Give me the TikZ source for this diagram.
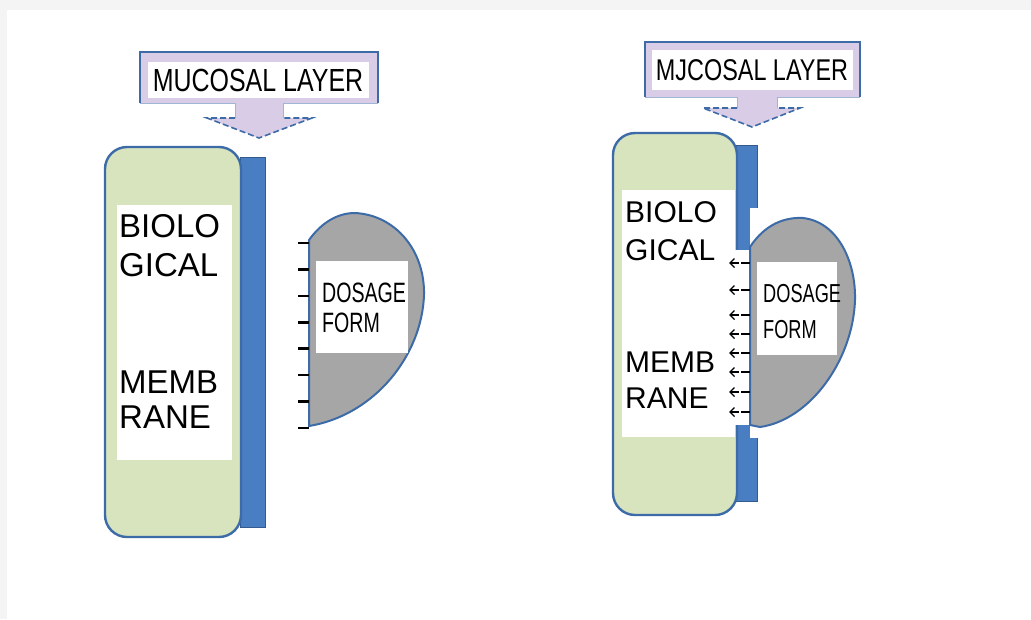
\documentclass[tikz,border=0pt]{standalone}
\usepackage{fontspec}
\setmainfont{Liberation Sans}
\newfontfamily\narrowsans[FakeStretch=0.78]{Liberation Sans}
\newfontfamily\dosesans[FakeStretch=0.7]{Liberation Sans}
\usetikzlibrary{arrows.meta,positioning,calc}

\definecolor{memgreen}{HTML}{D7E4BD}
\definecolor{edgeblue}{HTML}{3C6BA8}
\definecolor{barblue}{HTML}{4A7EC2}
\definecolor{lilac}{HTML}{D8CCE6}
\definecolor{formgray}{HTML}{A6A6A6}
\definecolor{pagegray}{HTML}{F4F4F4}

\tikzset{
  box/.style={anchor=north west, inner sep=0pt, outer sep=0pt},
  membrane/.style={box, draw=edgeblue, line width=2.4pt, fill=memgreen, rounded corners=22pt},
  backbar/.style={box, draw=edgeblue!85!black, line width=0.8pt, fill=barblue},
  whitebox/.style={box, fill=white},
  dosage/.style={draw=edgeblue, line width=2pt, fill=formgray},
  layerbox/.style={fill=lilac},
  word/.style={anchor=base west, inner sep=0pt},
  tick/.style={line width=2.6pt, black},
  release/.style={line width=1.8pt, black, dash pattern=on 9pt off 2pt,
    -{Straight Barb[length=4.5pt,width=9pt,line width=1.4pt]}}
}

\begin{document}
\begin{tikzpicture}[x=1pt, y=-1pt]
\useasboundingbox (0,0) rectangle (1031,619);
\fill[pagegray] (0,0) rectangle (1031,619);
\fill[white] (7,10) rectangle (1031,619);

% ---------- left: dosage form at rest ----------
% mucosal layer callout
\fill[layerbox] (140,52) -- (378,52) -- (378,103) -- (283,103) -- (283,118) -- (312,118)
  -- (259,138) -- (207,118) -- (235,118) -- (235,103) -- (140,103) -- cycle;
\draw[edgeblue, line width=1.6pt] (140,103) -- (140,52) -- (378,52) -- (378,103);
\draw[edgeblue!50, line width=0.8pt] (140,103) -- (235,103) -- (235,118) (283,118) -- (283,103) -- (378,103);
\draw[edgeblue, line width=1.6pt, dash pattern=on 6pt off 3pt] (235,118) -- (207,118) -- (259,138) -- (312,118) -- (283,118);
\node[fill=white, minimum width=221pt, minimum height=36pt, inner sep=0pt] (mucL) at (258,80)
  {\narrowsans\fontsize{32}{32}\selectfont MUCOSAL LAYER};

% membrane with backing bar
\node[backbar, minimum width=25pt, minimum height=370pt] (barL) at (240,157) {};
\node[membrane, minimum width=136pt, minimum height=390pt] (memL) at (105,147) {};
\node[whitebox, minimum width=115pt, minimum height=255pt] (txtL) at (117,205) {};
\begin{scope}[every node/.style={word, font=\fontsize{33}{33}\selectfont}]
\node (bioL) at (119,237) {BIOLO};
\node (gicL) at (119,276) {GICAL};
\node (memb) at (119,393) {MEMB};
\node (rane) at (119,428) {RANE};
\end{scope}

% dosage form, not yet attached
\draw[dosage] (309,240) .. controls (322,222) and (338,213) .. (355,213)
  .. controls (395,215) and (425,250) .. (424,295)
  .. controls (422,355) and (375,415) .. (309,426) -- cycle;
\node[whitebox, minimum width=92pt, minimum height=92pt] (doseL) at (316,261) {};
\node[word, font={\dosesans\fontsize{28}{28}\selectfont}] (dosL) at (322,302) {DOSAGE};
\node[word, font={\dosesans\fontsize{28}{28}\selectfont}] (forL) at (322,332) {FORM};
\foreach \i in {0,...,7}
  \draw[tick] (298,243+26.4*\i) -- (309,243+26.4*\i);

% ---------- right: dosage form adhered ----------
\fill[layerbox] (645,42) -- (860,42) -- (860,97) -- (777,97) -- (777,108) -- (800,108)
  -- (752,127) -- (703,108) -- (737,108) -- (737,97) -- (645,97) -- cycle;
\draw[edgeblue, line width=1.6pt] (645,97) -- (645,42) -- (860,42) -- (860,97);
\draw[edgeblue!50, line width=0.8pt] (645,97) -- (737,97) -- (737,108) (777,108) -- (777,97) -- (860,97);
\draw[edgeblue, line width=1.6pt, dash pattern=on 6pt off 3pt] (737,108) -- (703,108) -- (752,127) -- (800,108) -- (777,108);
\node[fill=white, minimum width=201pt, minimum height=40pt, inner sep=0pt] (mucR) at (752,70)
  {\narrowsans\fontsize{30}{30}\selectfont MJCOSAL LAYER};

\node[backbar, minimum width=21pt, minimum height=356pt] (barR) at (736,145) {};
\node[membrane, minimum width=124pt, minimum height=382pt] (memR) at (613,133) {};
\node[whitebox, minimum width=113pt, minimum height=247pt] (txtR) at (622,190) {};
% contact zone cut into the bar
\fill[white] (728,250) rectangle (751,425);
\fill[white] (750,208) rectangle (758,250);
\fill[white] (750,425) rectangle (758,438);
\begin{scope}[every node/.style={word, font=\fontsize{30}{30}\selectfont}]
\node (bioR) at (625,222) {BIOLO};
\node (gicR) at (625,260) {GICAL};
\node (memR2) at (625,372) {MEMB};
\node (raneR) at (625,408) {RANE};
\end{scope}

\draw[dosage] (750,247) .. controls (765,224) and (785,217) .. (803,218)
  .. controls (838,222) and (856,262) .. (855,300)
  .. controls (853,360) and (810,420) .. (760,427) -- (750,425) -- cycle;
\node[whitebox, minimum width=80pt, minimum height=93pt] (doseR) at (757,262) {};
\node[word, font={\dosesans\fontsize{26}{26}\selectfont}] (dosR) at (763,302) {DOSAGE};
\node[word, font={\dosesans\fontsize{26}{26}\selectfont}] (forR) at (763,338) {FORM};
\foreach \y in {263,290,315,334,353,372,392,412}
  \draw[release] (750,\y) -- (729,\y);
\end{tikzpicture}
\end{document}
